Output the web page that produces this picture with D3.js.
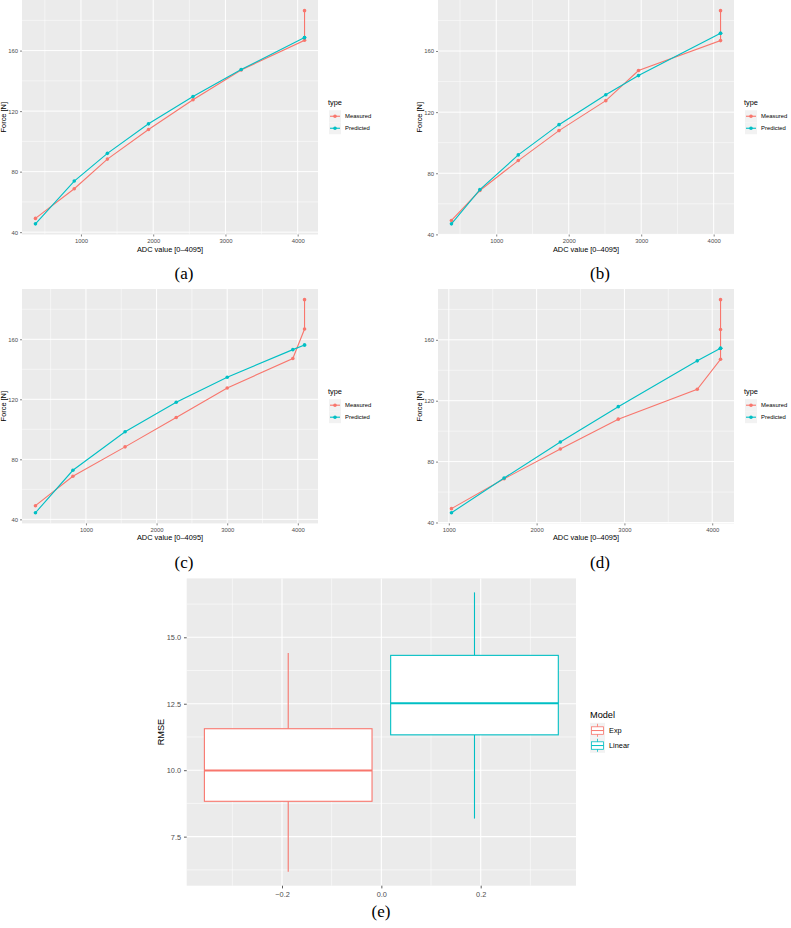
<!DOCTYPE html>
<html>
<head>
<meta charset="utf-8">
<script src="https://cdn.jsdelivr.net/npm/d3@7"></script>
<style>
html, body { margin: 0; padding: 0; background: #ffffff; }
svg { display: block; }
</style>
</head>
<body>
<svg id="chart" width="791" height="928"></svg>
<script>
// ---------- DATA ----------
const seriesNames = ["Measured", "Predicted"];
const seriesColors = ["#F8766D", "#00BFC4"];

const adcA = [370, 907, 1366, 1935, 2551, 3218, 4095, 4095];
const measuredA = [49.1, 68.7, 88.3, 107.9, 127.5, 147.2, 166.8, 186.4];
const predictedA = [45.5, 73.8, 92.1, 111.6, 129.7, 147.5, 168.6, 168.6];

const adcB = [382, 774, 1304, 1866, 2512, 2963, 4095, 4095];
const measuredB = [49.1, 68.7, 88.3, 107.9, 127.5, 147.2, 166.8, 186.4];
const predictedB = [46.9, 69.3, 92.0, 111.8, 131.4, 143.9, 171.6, 171.6];

const adcC = [285, 815, 1554, 2278, 3000, 3929, 4095, 4095];
const measuredC = [49.1, 68.7, 88.3, 107.9, 127.5, 147.2, 166.8, 186.4];
const predictedC = [44.4, 72.7, 98.4, 118.0, 134.7, 153.1, 156.2, 156.2];

const adcD = [1030, 1630, 2270, 2930, 3830, 4095, 4095, 4095];
const measuredD = [49.1, 68.7, 88.3, 107.9, 127.5, 147.2, 166.8, 186.4];
const predictedD = [46.4, 69.2, 92.9, 116.1, 146.2, 154.5, 154.5, 154.5];

const forceTicks = [40, 80, 120, 160];
const forceMinorTicks = [60, 100, 140, 180];
const adcTicks = [1000, 2000, 3000, 4000];
const adcMinorTicks = [500, 1500, 2500, 3500];

const modelNames = ["Exp", "Linear"];
const modelColors = ["#F8766D", "#00BFC4"];
const boxCenters = [-0.1875, 0.1875];
const boxWidth = 0.3375;
const whiskerLow = [6.18, 8.18];
const quartile1 = [8.83, 11.33];
const medians = [9.99, 12.52];
const quartile3 = [11.56, 14.32];
const whiskerHigh = [14.41, 16.69];
const rmseTicks = [7.5, 10.0, 12.5, 15.0];
const rmseMinorTicks = [6.25, 8.75, 11.25, 13.75, 16.25];
const modelXTicks = [-0.2, 0.0, 0.2];
const modelXMinorTicks = [-0.3, -0.1, 0.1, 0.3];

const captions = ["(a)", "(b)", "(c)", "(d)", "(e)"];

// ---------- HELPERS ----------
const svg = d3.select("#chart");
const SANS = "'Liberation Sans', Arial, Helvetica, sans-serif";
const SERIF = "'Liberation Serif', 'DejaVu Serif', serif";

function expand(ext, f) {
  const r = ext[1] - ext[0];
  return [ext[0] - r * f, ext[1] + r * f];
}

function gridAndAxes(g, x, y, opts) {
  const [x0, x1] = x.range();
  const [y1, y0] = y.range();
  g.append("rect").attr("x", x0).attr("y", y0).attr("width", x1 - x0).attr("height", y1 - y0).attr("fill", "#EBEBEB");
  const inX = v => v >= x.domain()[0] && v <= x.domain()[1];
  const inY = v => v >= y.domain()[0] && v <= y.domain()[1];
  g.selectAll(null).data(opts.yMinor.filter(inY)).join("line")
    .attr("x1", x0).attr("x2", x1).attr("y1", d => y(d)).attr("y2", d => y(d))
    .attr("stroke", "#ffffff").attr("stroke-width", opts.minorW);
  g.selectAll(null).data(opts.xMinor.filter(inX)).join("line")
    .attr("y1", y0).attr("y2", y1).attr("x1", d => x(d)).attr("x2", d => x(d))
    .attr("stroke", "#ffffff").attr("stroke-width", opts.minorW);
  g.selectAll(null).data(opts.yTicks.filter(inY)).join("line")
    .attr("x1", x0).attr("x2", x1).attr("y1", d => y(d)).attr("y2", d => y(d))
    .attr("stroke", "#ffffff").attr("stroke-width", opts.majorW);
  g.selectAll(null).data(opts.xTicks.filter(inX)).join("line")
    .attr("y1", y0).attr("y2", y1).attr("x1", d => x(d)).attr("x2", d => x(d))
    .attr("stroke", "#ffffff").attr("stroke-width", opts.majorW);

  const ax = g.append("g").attr("transform", `translate(0,${y1})`)
    .call(d3.axisBottom(x).tickValues(opts.xTicks).tickFormat(opts.xFmt).tickSize(opts.tickLen).tickPadding(opts.xPad));
  const ay = g.append("g").attr("transform", `translate(${x0},0)`)
    .call(d3.axisLeft(y).tickValues(opts.yTicks).tickFormat(opts.yFmt).tickSize(opts.tickLen).tickPadding(opts.yPad));
  [ax, ay].forEach(a => {
    a.select(".domain").remove();
    a.selectAll(".tick line").attr("stroke", "#333333").attr("stroke-width", opts.tickW);
    a.selectAll(".tick text").attr("fill", "#4D4D4D").attr("font-family", SANS).attr("font-size", opts.tickFont);
  });
}

// ---------- LINE PANELS ----------
function linePanel(p) {
  const g = svg.append("g");
  const xExt = expand(d3.extent(p.adc), 0.05);
  const yExt = expand(d3.extent(p.measured.concat(p.predicted)), 0.05);
  const x = d3.scaleLinear().domain(xExt).range([p.left, p.right]);
  const y = d3.scaleLinear().domain(yExt).range([p.bottom, p.top]);

  gridAndAxes(g, x, y, {
    yTicks: forceTicks, yMinor: forceMinorTicks, xTicks: adcTicks, xMinor: adcMinorTicks,
    majorW: 1.0, minorW: 0.5, tickLen: 2, tickW: 0.6, xPad: 2, yPad: 2,
    tickFont: 5.9, xFmt: d3.format("d"), yFmt: d3.format("d")
  });

  const series = [p.measured, p.predicted];
  series.forEach((vals, si) => {
    const pts = p.adc.map((a, i) => ({ a, v: vals[i], i }))
      .sort((m, n) => (m.a - n.a) || (m.i - n.i));
    g.append("path").datum(pts)
      .attr("fill", "none").attr("stroke", seriesColors[si]).attr("stroke-width", 1.1)
      .attr("d", d3.line().x(d => x(d.a)).y(d => y(d.v)));
    g.selectAll(null).data(pts).join("circle")
      .attr("cx", d => x(d.a)).attr("cy", d => y(d.v)).attr("r", 1.8)
      .attr("fill", seriesColors[si]);
  });

  g.append("text").attr("x", (p.left + p.right) / 2).attr("y", p.bottom + 17)
    .attr("text-anchor", "middle").attr("font-family", SANS).attr("font-size", 7.4).attr("fill", "#000")
    .text("ADC value [0\u20134095]");
  g.append("text").attr("transform", `translate(${p.left - 16},${(p.top + p.bottom) / 2}) rotate(-90)`)
    .attr("text-anchor", "middle").attr("font-family", SANS).attr("font-size", 7.4).attr("fill", "#000")
    .text("Force [N]");

  const lx = p.right + 10, ly = (p.top + p.bottom) / 2 - 12;
  g.append("text").attr("x", lx).attr("y", ly).attr("font-family", SANS).attr("font-size", 7.4)
    .attr("fill", "#000").text("type");
  seriesNames.forEach((name, i) => {
    const ky = ly + 5 + i * 12;
    g.append("rect").attr("x", lx + 1).attr("y", ky).attr("width", 12).attr("height", 12).attr("fill", "#F2F2F2");
    g.append("line").attr("x1", lx + 2).attr("x2", lx + 12).attr("y1", ky + 6).attr("y2", ky + 6)
      .attr("stroke", seriesColors[i]).attr("stroke-width", 1.1);
    g.append("circle").attr("cx", lx + 7).attr("cy", ky + 6).attr("r", 1.8).attr("fill", seriesColors[i]);
    g.append("text").attr("x", lx + 17).attr("y", ky + 6).attr("dy", "0.35em")
      .attr("font-family", SANS).attr("font-size", 5.9).attr("fill", "#000").text(name);
  });

  svg.append("text").attr("x", p.capX).attr("y", p.capY).attr("text-anchor", "middle")
    .attr("font-family", SERIF).attr("font-size", 17).attr("fill", "#000").text(p.caption);
}

linePanel({ adc: adcA, measured: measuredA, predicted: predictedA, left: 22, right: 318, top: 0, bottom: 234.5, capX: 184, capY: 279, caption: captions[0] });
linePanel({ adc: adcB, measured: measuredB, predicted: predictedB, left: 438, right: 734, top: 0, bottom: 234.5, capX: 600, capY: 279, caption: captions[1] });
linePanel({ adc: adcC, measured: measuredC, predicted: predictedC, left: 22, right: 318, top: 289, bottom: 523.4, capX: 184, capY: 568, caption: captions[2] });
linePanel({ adc: adcD, measured: measuredD, predicted: predictedD, left: 438, right: 734, top: 289, bottom: 523.4, capX: 600, capY: 568, caption: captions[3] });

// ---------- BOX PLOT ----------
(function boxPanel() {
  const g = svg.append("g");
  const left = 186.7, right = 576, top = 578.4, bottom = 885.7;
  const boxExt = [d3.min(boxCenters) - boxWidth / 2, d3.max(boxCenters) + boxWidth / 2];
  const x = d3.scaleLinear().domain(expand(boxExt, 0.05)).range([left, right]);
  const y = d3.scaleLinear().domain(expand([d3.min(whiskerLow), d3.max(whiskerHigh)], 0.05)).range([bottom, top]);

  gridAndAxes(g, x, y, {
    yTicks: rmseTicks, yMinor: rmseMinorTicks, xTicks: modelXTicks, xMinor: modelXMinorTicks,
    majorW: 1.1, minorW: 0.55, tickLen: 2.7, tickW: 0.8, xPad: 3, yPad: 3,
    tickFont: 7.35, xFmt: d3.format(".1f"), yFmt: d3.format(".1f")
  });

  modelNames.forEach((m, i) => {
    const cx = x(boxCenters[i]);
    const bx0 = x(boxCenters[i] - boxWidth / 2), bx1 = x(boxCenters[i] + boxWidth / 2);
    const col = modelColors[i];
    g.append("line").attr("x1", cx).attr("x2", cx).attr("y1", y(whiskerHigh[i])).attr("y2", y(quartile3[i]))
      .attr("stroke", col).attr("stroke-width", 1.1);
    g.append("line").attr("x1", cx).attr("x2", cx).attr("y1", y(quartile1[i])).attr("y2", y(whiskerLow[i]))
      .attr("stroke", col).attr("stroke-width", 1.1);
    g.append("rect").attr("x", bx0).attr("y", y(quartile3[i])).attr("width", bx1 - bx0)
      .attr("height", y(quartile1[i]) - y(quartile3[i]))
      .attr("fill", "#ffffff").attr("stroke", col).attr("stroke-width", 1.1);
    g.append("line").attr("x1", bx0).attr("x2", bx1).attr("y1", y(medians[i])).attr("y2", y(medians[i]))
      .attr("stroke", col).attr("stroke-width", 2);
  });

  g.append("text").attr("transform", `translate(${left - 22.5},${(top + bottom) / 2}) rotate(-90)`)
    .attr("text-anchor", "middle").attr("font-family", SANS).attr("font-size", 9.2).attr("fill", "#000")
    .text("RMSE");

  const lx = 590, ly = 718.3;
  g.append("text").attr("x", lx).attr("y", ly).attr("font-family", SANS).attr("font-size", 9.2)
    .attr("fill", "#000").text("Model");
  modelNames.forEach((m, i) => {
    const ky = ly + 4.5 + i * 15;
    const col = modelColors[i];
    g.append("rect").attr("x", lx).attr("y", ky).attr("width", 15).attr("height", 15).attr("fill", "#F2F2F2");
    g.append("line").attr("x1", lx + 7.5).attr("x2", lx + 7.5).attr("y1", ky + 1).attr("y2", ky + 14)
      .attr("stroke", col).attr("stroke-width", 0.8);
    g.append("rect").attr("x", lx + 1.5).attr("y", ky + 4).attr("width", 12).attr("height", 7.5)
      .attr("fill", "#ffffff").attr("stroke", col).attr("stroke-width", 0.8);
    g.append("line").attr("x1", lx + 1.5).attr("x2", lx + 13.5).attr("y1", ky + 7.75).attr("y2", ky + 7.75)
      .attr("stroke", col).attr("stroke-width", 1);
    g.append("text").attr("x", lx + 19).attr("y", ky + 7.5).attr("dy", "0.35em")
      .attr("font-family", SANS).attr("font-size", 7.35).attr("fill", "#000").text(m);
  });

  svg.append("text").attr("x", 381).attr("y", 917).attr("text-anchor", "middle")
    .attr("font-family", SERIF).attr("font-size", 17).attr("fill", "#000").text(captions[4]);
})();
</script>
</body>
</html>
